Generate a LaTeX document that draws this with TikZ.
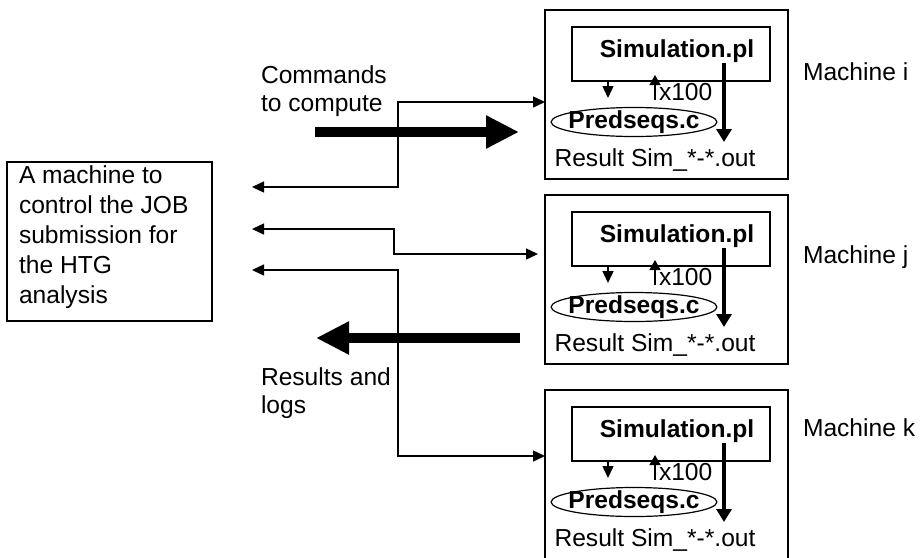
\documentclass[tikz,border=0pt]{standalone}
\usepackage{fontspec}
\setmainfont{Liberation Sans}
\usetikzlibrary{arrows.meta,shapes.geometric,calc}
\begin{document}
\begin{tikzpicture}[x=1pt,y=-1pt,
  every node/.style={inner sep=0pt,outer sep=0pt},
  txt/.style={font=\fontsize{24.6}{28}\selectfont},
  boxline/.style={draw,line width=1.6pt},
  thinarrow/.style={line width=1.4pt,-{Triangle[length=12pt,width=11pt]}},
  thinboth/.style={line width=1.4pt,{Triangle[length=12pt,width=11pt]}-{Triangle[length=12pt,width=11pt]}},
  fatarrow/.style={line width=10pt,-{Triangle[length=33pt,width=31pt]}},
  midarrow/.style={line width=4pt,-{Triangle[length=13pt,width=15pt]}},
  uparrow/.style={line width=1.4pt,-{Triangle[length=10pt,width=11pt]}}]
\useasboundingbox (0,0) rectangle (920,557);

% left control box
\node[boxline,minimum width=205pt,minimum height=159pt] (ctrl) at (109.5,241.5) {};
\node[txt,font=\fontsize{24.6}{30}\selectfont,align=left,anchor=north west] (ctrltxt) at (19,166)
  {A machine to\\control the JOB\\submission for\\the HTG\\analysis};

% machines
\foreach \n/\oy/\ly in {i/10/72, j/195/257, k/390/428}{
  \node[boxline,minimum width=243pt,minimum height=169pt] (mach\n) at (666.5,\oy+84.5) {};
  \node[boxline,minimum width=198pt,minimum height=54pt] (sim\n) at (671,\oy+44) {};
  \node[txt,font=\fontsize{24.6}{28}\selectfont\bfseries] (simtxt\n) at (677,\oy+41) {Simulation.pl};
  \node[draw,line width=1.2pt,ellipse,inner xsep=-7pt,inner ysep=-3pt,
        minimum width=165pt,minimum height=29pt,
        font=\fontsize{24.6}{28}\selectfont\bfseries] (pred\n) at (634,\oy+112) {Predseqs.c};
  \coordinate (dtip\n) at (608,\oy+88);
  \draw[thinarrow] (sim\n.south -| dtip\n) -- (dtip\n);
  \coordinate (ubase\n) at (655,\oy+90);
  \coordinate (utip\n) at (655,\oy+65);
  \draw[uparrow] (ubase\n) -- (utip\n);
  \node[txt,anchor=west] (x\n) at (659,\oy+82) {x100};
  \coordinate (fstart\n) at (724,\oy+53);
  \coordinate (fend\n) at (724,\oy+132);
  \draw[midarrow] (fstart\n) -- (fend\n);
  \node[txt] (res\n) at (655,\oy+150) {Result Sim\_*-*.out};
  \node[txt,anchor=west] (lab\n) at (803,\ly) {Machine \n};
}

% connectors
\coordinate (l1) at (252,187);
\coordinate (r1) at (545,102);
\draw[thinboth] (l1) -| (398,102) -- (r1);
\coordinate (l2) at (252,229);
\coordinate (r2) at (538,254);
\draw[thinboth] (l2) -| (394,254) -- (r2);
\coordinate (l3) at (252,270);
\coordinate (r3) at (545,456);
\draw[thinboth] (l3) -| (398,456) -- (r3);

% fat arrows
\coordinate (fa1) at (315,132);
\coordinate (fb1) at (519,132);
\draw[fatarrow] (fa1) -- (fb1);
\coordinate (fa2) at (520,338);
\coordinate (fb2) at (316,338);
\draw[fatarrow] (fa2) -- (fb2);

% labels
\node[txt,align=left,anchor=west] (cmd) at (261,91) {Commands\\to compute};
\node[txt,align=left,anchor=west] (reslog) at (261,393) {Results and\\logs};
\end{tikzpicture}
\end{document}
